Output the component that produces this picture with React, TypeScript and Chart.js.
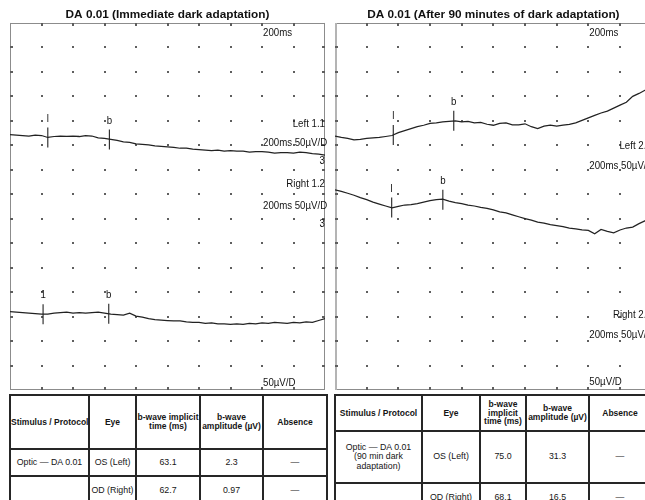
import React, { useEffect, useRef } from "react";
import { Chart, registerables } from "chart.js";

Chart.register(...registerables);

// ---------- data ----------
const leftTitle = "DA 0.01 (Immediate dark adaptation)";
const rightTitle = "DA 0.01 (After 90 minutes of dark adaptation)";

const timesMs = [0, 4, 8, 12, 16, 20, 24, 28, 32, 36, 40, 44, 48, 52, 56, 60, 64, 68, 72, 76, 80, 84, 88, 92, 96, 100, 104, 108, 112, 116, 120, 124, 128, 132, 136, 140, 144, 148, 152, 156, 160, 164, 168, 172, 176, 180, 184, 188, 192, 196, 200];

// display positions in µV (50 µV per division, 15 divisions)
const leftOsTrace = [522, 521, 520, 519, 521, 520, 516, 518, 519, 518, 519, 518, 520, 519, 515, 514, 512, 510, 507, 506, 503, 502, 501, 499, 498, 497, 496, 494, 494, 492, 491, 490, 489, 490, 488, 489, 488, 488, 486, 487, 487, 486, 484, 485, 485, 484, 486, 485, 483, 482, 480];
const leftOdTrace = [160, 159, 158, 157, 156, 155, 155, 157, 158, 159, 157, 158, 157, 158, 159, 157, 155, 154, 153, 157, 151, 149, 146, 144, 143, 142, 141, 141, 139, 138, 138, 136, 137, 135, 135, 134, 135, 134, 136, 135, 137, 136, 138, 137, 136, 138, 137, 139, 138, 142, 146];
const rightOsTrace = [519, 516, 514, 511, 512, 514, 515, 516, 518, 520, 526, 530, 534, 538, 541, 545, 546, 548, 549, 550, 548, 549, 546, 547, 543, 541, 545, 546, 542, 542, 544, 538, 534, 539, 541, 539, 541, 543, 546, 551, 556, 561, 566, 570, 576, 582, 588, 600, 606, 613, 618];
const rightOdTrace = [409, 406, 402, 398, 393, 389, 384, 380, 376, 372, 375, 378, 379, 381, 384, 387, 389, 390, 386, 383, 381, 378, 376, 373, 371, 368, 364, 362, 358, 354, 350, 347, 343, 341, 338, 336, 334, 331, 329, 327, 326, 319, 328, 324, 321, 327, 331, 333, 340, 346, 350];

const leftMarkerTimes = [24, 63.1, 21, 62.7];
const leftMarkerValues = [516, 512, 155, 156];
const leftMarkerLabels = ["l", "b", "1", "b"];
const rightMarkerTimes = [36.8, 75.0, 35.8, 68.1];
const rightMarkerValues = [521, 550, 373, 389];
const rightMarkerLabels = ["l", "b", "l", "b"];

const leftNoteTexts = ["200ms", "Left 1.1", "200ms 50µV/D", "3", "Right 1.2", "200ms 50µV/D", "3", "50µV/D"];
const rightNoteTexts = ["200ms", "Left 2.1", "200ms 50µV/D", "3", "Right 2.2", "200ms 50µV/D", "3", "50µV/D"];

const tableHeaderLeft = ["Stimulus / Protocol", "Eye", "b-wave implicit\ntime (ms)", "b-wave\namplitude (µV)", "Absence"];
const tableHeaderRight = ["Stimulus / Protocol", "Eye", "b-wave\nimplicit\ntime (ms)", "b-wave\namplitude (µV)", "Absence"];
const eyes = ["OS (Left)", "OD (Right)"];
const leftProtocol = "Optic — DA 0.01";
const rightProtocol = "Optic — DA 0.01\n(90 min dark\nadaptation)";
const leftImplicit = ["63.1", "62.7"];
const leftAmplitude = ["2.3", "0.97"];
const rightImplicit = ["75.0", "68.1"];
const rightAmplitude = ["31.3", "16.5"];
const absence = ["—", "—"];

// ---------- layout (not data) ----------
type Note = { x: number; y: number; align: CanvasTextAlign };
const leftNoteLayout: Note[] = [
  { x: 160, y: 729.6, align: "left" },
  { x: 200, y: 543.6, align: "right" },
  { x: 160, y: 504.8, align: "left" },
  { x: 200, y: 468.6, align: "right" },
  { x: 200, y: 421, align: "right" },
  { x: 160, y: 376, align: "left" },
  { x: 200, y: 339.2, align: "right" },
  { x: 160, y: 14.9, align: "left" },
];
const rightNoteLayout: Note[] = [
  { x: 160, y: 729.6, align: "left" },
  { x: 200, y: 498.6, align: "right" },
  { x: 160, y: 457.8, align: "left" },
  { x: 200, y: 421.5, align: "right" },
  { x: 200, y: 153.3, align: "right" },
  { x: 160, y: 112.4, align: "left" },
  { x: 200, y: 76.5, align: "right" },
  { x: 160, y: 16.3, align: "left" },
];

const INK = "#222222";

function hasNarrow(ctx: CanvasRenderingContext2D) {
  ctx.save();
  ctx.font = '40px "Liberation Sans Narrow", monospace';
  const a = ctx.measureText("200ms 50µV/D Left").width;
  ctx.font = "40px monospace";
  const b = ctx.measureText("200ms 50µV/D Left").width;
  ctx.restore();
  return Math.abs(a - b) > 1;
}

function drawNarrow(ctx: CanvasRenderingContext2D, text: string, x: number, y: number, align: CanvasTextAlign, narrow: boolean) {
  ctx.save();
  ctx.translate(x, y);
  if (!narrow) ctx.scale(0.82, 1);
  ctx.font = narrow ? '11.8px "Liberation Sans Narrow"' : '11.8px "Liberation Sans", Arial';
  ctx.textAlign = align;
  ctx.textBaseline = "middle";
  ctx.fillStyle = "#121212";
  ctx.fillText(text, 0, 0);
  ctx.restore();
}

type PanelCfg = {
  texts: string[];
  layout: Note[];
  markerLabels: string[];
  leftBorder: { w: number; c: string };
  showRight: boolean;
};

function makePanelPlugin(cfg: PanelCfg) {
  return {
    id: "ergPanel",
    beforeDatasetsDraw(chart: any) {
      const { ctx, chartArea: a, scales } = chart;
      const xs = scales.x;
      const ys = scales.y;
      ctx.save();
      // frame
      ctx.strokeStyle = "#8c8c8c";
      ctx.lineWidth = 1;
      ctx.beginPath();
      ctx.moveTo(a.left, Math.round(a.top) + 0.5);
      ctx.lineTo(a.right, Math.round(a.top) + 0.5);
      ctx.moveTo(a.left, Math.round(a.bottom) - 0.5);
      ctx.lineTo(a.right, Math.round(a.bottom) - 0.5);
      if (cfg.showRight) {
        ctx.moveTo(Math.round(a.right) - 0.5, a.top);
        ctx.lineTo(Math.round(a.right) - 0.5, a.bottom);
      }
      ctx.stroke();
      ctx.strokeStyle = cfg.leftBorder.c;
      ctx.lineWidth = cfg.leftBorder.w;
      ctx.beginPath();
      ctx.moveTo(Math.round(a.left) + cfg.leftBorder.w / 2, a.top);
      ctx.lineTo(Math.round(a.left) + cfg.leftBorder.w / 2, a.bottom);
      ctx.stroke();

      // dotted grid
      const xStep = chart.options.scales.x.ticks.stepSize;
      const yStep = chart.options.scales.y.ticks.stepSize;
      const xMin = chart.options.scales.x.min, xMax = chart.options.scales.x.max;
      const yMin = chart.options.scales.y.min, yMax = chart.options.scales.y.max;
      ctx.fillStyle = "#5e5e5e";
      for (let t = xMin; t <= xMax + 1e-6; t += xStep) {
        for (let v = yMin; v <= yMax + 1e-6; v += yStep) {
          const px = Math.round(xs.getPixelForValue(t));
          const py = Math.round(ys.getPixelForValue(v));
          const onLeft = t === xMin, onRight = t === xMax, onTop = v === yMax, onBottom = v === yMin;
          if ((onLeft || onRight) && (onTop || onBottom)) continue;
          if (onTop) ctx.fillRect(px - 1, py, 2, 3);
          else if (onBottom) ctx.fillRect(px - 1, py - 3, 2, 3);
          else if (onLeft) ctx.fillRect(px, py - 1, 3, 2);
          else if (onRight) ctx.fillRect(px - 3, py - 1, 3, 2);
          else ctx.fillRect(px - 1, py - 1, 2, 2);
        }
      }
      ctx.restore();
    },
    afterDatasetsDraw(chart: any) {
      const { ctx, scales } = chart;
      const narrow = hasNarrow(ctx);
      cfg.texts.forEach((txt, i) => {
        const n = cfg.layout[i];
        const px = scales.x.getPixelForValue(n.x) + (n.align === "left" ? 1 : 0);
        const py = scales.y.getPixelForValue(n.y);
        drawNarrow(ctx, txt, px, py, n.align, narrow);
      });
      const meta = chart.getDatasetMeta(2);
      meta.data.forEach((el: any, i: number) => {
        drawNarrow(ctx, cfg.markerLabels[i], el.x, el.y - 19, "center", narrow);
      });
    },
  };
}

function buildChart(
  canvas: HTMLCanvasElement,
  title: string,
  traces: number[][],
  markerTimes: number[],
  markerValues: number[],
  pad: { left: number; right: number; bottom: number },
  cfg: PanelCfg
) {
  const lineDs = (vals: number[]) => ({
    type: "line" as const,
    data: timesMs.map((t, i) => ({ x: t, y: vals[i] })),
    borderColor: INK,
    borderWidth: 1.25,
    pointRadius: 0,
    tension: 0,
    fill: false,
  });
  return new Chart(canvas, {
    type: "line",
    data: {
      datasets: [
        lineDs(traces[0]) as any,
        lineDs(traces[1]) as any,
        {
          type: "line",
          data: markerTimes.map((t, i) => ({ x: t, y: markerValues[i] })),
          showLine: false,
          pointStyle: "line",
          pointRotation: 90,
          pointRadius: 10,
          pointHoverRadius: 10,
          pointBorderColor: INK,
          pointBorderWidth: 1.1,
          pointBackgroundColor: INK,
        } as any,
      ],
    },
    options: {
      animation: false,
      responsive: false,
      maintainAspectRatio: false,
      events: [],
      layout: { autoPadding: false, padding: { left: pad.left, right: pad.right, top: 0, bottom: pad.bottom } },
      plugins: {
        legend: { display: false },
        tooltip: { enabled: false },
        title: {
          display: true,
          text: title,
          color: "#111",
          font: { family: '"Liberation Sans", Arial, sans-serif', size: 11.8, weight: "bold" },
          padding: { top: 8, bottom: 0.8 },
        },
      },
      scales: {
        x: { type: "linear", min: 0, max: 200, display: false, ticks: { stepSize: 20 } },
        y: { type: "linear", min: 0, max: 750, display: false, ticks: { stepSize: 50 } },
      },
    },
    plugins: [makePanelPlugin(cfg)],
  } as any);
}

const cellBase: React.CSSProperties = {
  border: "2px solid #262626",
  textAlign: "center",
  verticalAlign: "middle",
  padding: 0,
  whiteSpace: "pre-line",
  overflow: "visible",
};

function ErgTable(props: {
  left: number;
  widths: number[];
  heights: number[];
  header: string[];
  protocol: string;
  implicit: string[];
  amplitude: string[];
}) {
  const { left, widths, heights, header, protocol, implicit, amplitude } = props;
  const total = widths.reduce((s, w) => s + w, 0);
  return (
    <table
      style={{
        position: "absolute",
        left,
        top: 394,
        width: total,
        borderCollapse: "collapse",
        tableLayout: "fixed",
        fontFamily: '"Liberation Sans", Arial, sans-serif',
        color: "#151515",
      }}
    >
      <colgroup>
        {widths.map((w, i) => (
          <col key={i} style={{ width: w }} />
        ))}
      </colgroup>
      <tbody>
        <tr style={{ height: heights[0] }}>
          {header.map((h, i) => (
            <th key={i} style={{ ...cellBase, fontSize: 8.5, fontWeight: "bold", lineHeight: 1.02, whiteSpace: i === 0 ? "nowrap" : "pre-line" }}>
              {h}
            </th>
          ))}
        </tr>
        {eyes.map((eye, r) => (
          <tr key={r} style={{ height: heights[r + 1] }}>
            {[r === 0 ? protocol : "", eye, implicit[r], amplitude[r], absence[r]].map((c, i) => (
              <td key={i} style={{ ...cellBase, fontSize: 8.8, lineHeight: 1.05 }}>
                {c}
              </td>
            ))}
          </tr>
        ))}
      </tbody>
    </table>
  );
}

export default function App() {
  const leftRef = useRef<HTMLCanvasElement>(null);
  const rightRef = useRef<HTMLCanvasElement>(null);

  useEffect(() => {
    const c1 = buildChart(
      leftRef.current!,
      leftTitle,
      [leftOsTrace, leftOdTrace],
      leftMarkerTimes,
      leftMarkerValues,
      { left: 10, right: 5, bottom: 2 },
      {
        texts: leftNoteTexts,
        layout: leftNoteLayout,
        markerLabels: leftMarkerLabels,
        leftBorder: { w: 1, c: "#8c8c8c" },
        showRight: true,
      }
    );
    const c2 = buildChart(
      rightRef.current!,
      rightTitle,
      [rightOsTrace, rightOdTrace],
      rightMarkerTimes,
      rightMarkerValues,
      { left: 5, right: 8.3, bottom: 2 },
      {
        texts: rightNoteTexts,
        layout: rightNoteLayout,
        markerLabels: rightMarkerLabels,
        leftBorder: { w: 2, c: "#b4b4b4" },
        showRight: true,
      }
    );
    return () => {
      c1.destroy();
      c2.destroy();
    };
  }, []);

  return (
    <div style={{ position: "absolute", left: 0, top: 0, width: 645, height: 500, overflow: "hidden", background: "#fff" }}>
      <canvas ref={leftRef} width={330} height={392} style={{ position: "absolute", left: 0, top: 0, width: 330, height: 392 }} />
      <canvas ref={rightRef} width={330} height={392} style={{ position: "absolute", left: 330, top: 0, width: 330, height: 392 }} />
      <ErgTable
        left={9}
        widths={[79, 47, 64, 63, 64]}
        heights={[54, 27, 30]}
        header={tableHeaderLeft}
        protocol={leftProtocol}
        implicit={leftImplicit}
        amplitude={leftAmplitude}
      />
      <ErgTable
        left={334}
        widths={[87, 58, 46, 63, 62]}
        heights={[36, 52, 30]}
        header={tableHeaderRight}
        protocol={rightProtocol}
        implicit={rightImplicit}
        amplitude={rightAmplitude}
      />
    </div>
  );
}
